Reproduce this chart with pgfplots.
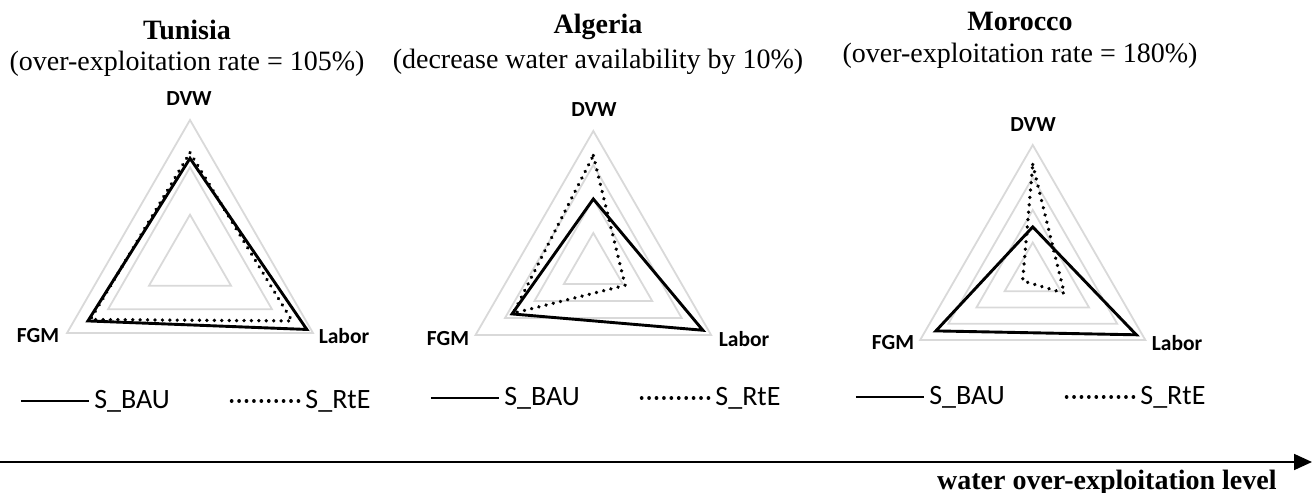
\documentclass[border=0pt]{standalone}
\usepackage{fontspec}
\setmainfont{Liberation Serif}
\newfontfamily\carlito{Carlito}
\usepackage{pgfplots}
\pgfplotsset{compat=1.18}
\usetikzlibrary{arrows.meta}
\pgfplotsset{
  radar/.style={hide axis, clip=false, anchor=center,
    xmin=-1.5, xmax=1.5, ymin=-1.5, ymax=1.5,
    legend columns=2,
    legend image code/.code={\draw[##1] (0bp,0bp) -- (34bp,0bp);},
    legend style={draw=none, fill=none, inner sep=0pt, anchor=west,
      font=\carlito\fontsize{14bp}{16bp}\selectfont,
      /tikz/every even column/.append style={column sep=28bp}},
  },
  gridl/.style={draw=gray!30, line width=0.9bp, line join=miter, forget plot, data cs=polar},
  bau/.style={black, line width=1.45bp, line join=miter, data cs=polar},
  rte/.style={black, line width=1.85bp, line cap=round, line join=round,
    dash pattern=on 0.01bp off 3.7bp, data cs=polar},
}
\tikzset{
  lab/.style={font=\carlito\bfseries\fontsize{10.75bp}{13bp}\selectfont, inner sep=0pt},
  ttl/.style={font=\bfseries\fontsize{14bp}{16bp}\selectfont, anchor=base, inner sep=0pt},
  sub/.style={font=\fontsize{14bp}{16bp}\selectfont, anchor=base, inner sep=0pt},
}
\begin{document}
\begin{tikzpicture}[x=0.5bp, y=-0.5bp]
\useasboundingbox (0,0) rectangle (1314,493);

% ---------------- Tunisia ----------------
\begin{axis}[radar, at={(95bp,-131bp)}, x=71bp, y=71bp,
  legend style={at={(axis cs:-1.204,-0.979)}}]
\addplot[gridl] coordinates {(90,0.3333) (210,0.3333) (330,0.3333)} -- cycle;
\addplot[gridl] coordinates {(90,0.6667) (210,0.6667) (330,0.6667)} -- cycle;
\addplot[gridl] coordinates {(90,1) (210,1) (330,1)} -- cycle;
\addplot[bau] coordinates {(90,0.73) (330,0.95) (210,0.83)} -- cycle;
\addlegendentry{S\_BAU}
\addplot[rte] coordinates {(90,0.77) (330,0.83) (210,0.81)} -- cycle;
\addlegendentry{S\_RtE}
\end{axis}

% ---------------- Algeria ----------------
\begin{axis}[radar, at={(296.65bp,-133.5bp)}, x=68bp, y=68bp,
  legend style={at={(axis cs:-1.208,-0.963)}}]
\addplot[gridl] coordinates {(90,0.25) (210,0.25) (330,0.25)} -- cycle;
\addplot[gridl] coordinates {(90,0.5) (210,0.5) (330,0.5)} -- cycle;
\addplot[gridl] coordinates {(90,0.75) (210,0.75) (330,0.75)} -- cycle;
\addplot[gridl] coordinates {(90,1) (210,1) (330,1)} -- cycle;
\addplot[bau] coordinates {(90,0.50) (330,0.93) (210,0.69)} -- cycle;
\addlegendentry{S\_BAU}
\addplot[rte] coordinates {(90,0.82) (330,0.27) (210,0.68)} -- cycle;
\addlegendentry{S\_RtE}
\end{axis}

% ---------------- Morocco ----------------
\begin{axis}[radar, at={(516.35bp,-137.5bp)}, x=65bp, y=65bp,
  legend style={at={(axis cs:-1.375,-0.938)}}]
\addplot[gridl] coordinates {(90,0.25) (210,0.25) (330,0.25)} -- cycle;
\addplot[gridl] coordinates {(90,0.5) (210,0.5) (330,0.5)} -- cycle;
\addplot[gridl] coordinates {(90,0.75) (210,0.75) (330,0.75)} -- cycle;
\addplot[gridl] coordinates {(90,1) (210,1) (330,1)} -- cycle;
\addplot[bau] coordinates {(90,0.37) (330,0.92) (210,0.86)} -- cycle;
\addlegendentry{S\_BAU}
\addplot[rte] coordinates {(90,0.85) (330,0.28) (210,0.09)} -- cycle;
\addlegendentry{S\_RtE}
\end{axis}

% titles
\node[ttl] at (187,40) {Tunisia};
\node[sub] at (187,71) {(over-exploitation rate = 105\%)};
\node[ttl] at (598,34) {Algeria};
\node[sub] at (598,69) {(decrease water availability by 10\%)};
\node[ttl] at (1020,31) {Morocco};
\node[sub] at (1020,63) {(over-exploitation rate = 180\%)};

% axis labels
\node[lab] at (189,99) {DVW};
\node[lab] at (38,336) {FGM};
\node[lab] at (344,336) {Labor};
\node[lab] at (594,110) {DVW};
\node[lab] at (448,339) {FGM};
\node[lab] at (744,339) {Labor};
\node[lab] at (1033,125) {DVW};
\node[lab] at (893,343) {FGM};
\node[lab] at (1177,343) {Labor};

% bottom arrow
\draw[line width=0.9bp, -{Triangle[length=9bp, width=8bp]}] (0,462) -- (1312,462);
\node[font=\bfseries\fontsize{14bp}{16bp}\selectfont, anchor=base east, inner sep=0pt]
  at (1277,489) {water over-exploitation level};
\end{tikzpicture}
\end{document}
